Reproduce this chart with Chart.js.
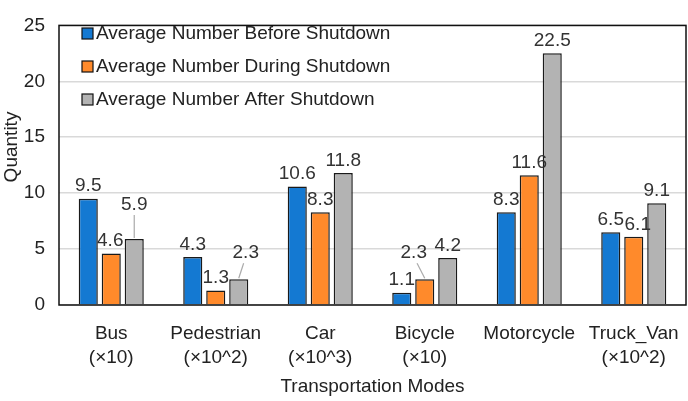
<!DOCTYPE html>
<html lang="en">
<head>
<meta charset="UTF-8">
<title>Transportation Modes</title>
<script src="https://cdn.jsdelivr.net/npm/chart.js"></script>
<style>
  html, body { margin: 0; padding: 0; background: #fff; }
  #wrap { width: 688px; height: 401px; }
</style>
</head>
<body>
<div id="wrap"><canvas id="chart"></canvas></div>
<script>
// data
const modes = [
  ['Bus', '(×10)'],
  ['Pedestrian', '(×10^2)'],
  ['Car', '(×10^3)'],
  ['Bicycle', '(×10)'],
  ['Motorcycle', ''],
  ['Truck_Van', '(×10^2)']
];
const beforeShutdown = [9.5, 4.3, 10.6, 1.1, 8.3, 6.5];
const duringShutdown = [4.6, 1.3, 8.3, 2.3, 11.6, 6.1];
const afterShutdown = [5.9, 2.3, 11.8, 4.2, 22.5, 9.1];
const yTicks = [0, 5, 10, 15, 20, 25];

// label nudges (dx, dy, leader line) for the crowded value labels
const nudges = {
  '1-0': [-1, 0, false],
  '2-0': [0, -22, true],
  '2-1': [7, -14, true],
  '1-3': [-11, -14, true],
  '1-5': [4, 0, false]
};

const font = 'Liberation Sans, Arial, sans-serif';
const fs = 19;

const frameAndLabels = {
  id: 'frameAndLabels',
  afterDatasetsDraw(chart) {
    const ctx = chart.ctx;
    const a = chart.chartArea;
    ctx.save();
    // value labels
    ctx.font = fs + 'px ' + font;
    ctx.fillStyle = '#333';
    ctx.textAlign = 'center';
    ctx.textBaseline = 'bottom';
    chart.data.datasets.forEach((ds, di) => {
      chart.getDatasetMeta(di).data.forEach((bar, i) => {
        const n = nudges[di + '-' + i] || [0, 0, false];
        const x = bar.x + n[0];
        const y = bar.y - 3 + n[1];
        if (n[2]) {
          ctx.strokeStyle = '#aaa';
          ctx.lineWidth = 1.2;
          ctx.beginPath();
          ctx.moveTo(x - n[0] * 0.3, y + 1);
          ctx.lineTo(bar.x, bar.y - 1);
          ctx.stroke();
        }
        ctx.fillText(ds.data[i].toFixed(1), x, y);
      });
    });
    // plot frame
    ctx.strokeStyle = '#111';
    ctx.lineWidth = 1.5;
    ctx.strokeRect(a.left, a.top, a.right - a.left, a.bottom - a.top);
    // legend inside the plot
    ctx.textAlign = 'left';
    ctx.textBaseline = 'middle';
    chart.data.datasets.forEach((ds, i) => {
      const y = 33 + i * 33;
      ctx.fillStyle = ds.backgroundColor;
      ctx.fillRect(82, y - 5, 11, 11);
      ctx.strokeStyle = '#111';
      ctx.lineWidth = 1.2;
      ctx.strokeRect(82, y - 5, 11, 11);
      ctx.fillStyle = '#222';
      ctx.fillText(ds.label, 96, y + 1);
    });
    // y axis title, sits a bit above the middle like the original
    ctx.translate(12, 147);
    ctx.rotate(-Math.PI / 2);
    ctx.textAlign = 'center';
    ctx.fillText('Quantity', 0, 0);
    ctx.restore();
  }
};

new Chart(document.getElementById('chart'), {
  type: 'bar',
  data: {
    labels: modes,
    datasets: [
      { label: 'Average Number Before Shutdown', data: beforeShutdown, backgroundColor: '#1479d2' },
      { label: 'Average Number During Shutdown', data: duringShutdown, backgroundColor: '#ff8a2b' },
      { label: 'Average Number After Shutdown', data: afterShutdown, backgroundColor: '#b3b3b3' }
    ].map(d => Object.assign(d, { borderColor: '#1a1a1a', borderWidth: 1.5, borderSkipped: 'bottom' }))
  },
  options: {
    responsive: true,
    maintainAspectRatio: false,
    animation: false,
    layout: { padding: { top: 13, right: 2, bottom: 0, left: 0 } },
    datasets: { bar: { categoryPercentage: 0.66, barPercentage: 0.83 } },
    plugins: { legend: { display: false }, tooltip: { enabled: false } },
    scales: {
      x: {
        grid: { display: false },
        border: { display: false },
        afterFit(scale) { scale.height = 96; },
        ticks: { color: '#222', font: { family: font, size: fs, lineHeight: 1.3 }, padding: 8, maxRotation: 0, autoSkip: false },
        title: { display: true, text: 'Transportation Modes', color: '#222', font: { family: font, size: fs }, padding: { top: 4, bottom: 3 } }
      },
      y: {
        min: 0,
        max: 25,
        afterBuildTicks(scale) { scale.ticks = yTicks.map(v => ({ value: v })); },
        afterFit(scale) { scale.width = 59; },
        grid: { color: '#d9d9d9', lineWidth: 1.5, drawTicks: false },
        border: { display: false },
        ticks: { color: '#222', font: { family: font, size: fs }, padding: 14 }
      }
    }
  },
  plugins: [frameAndLabels]
});
</script>
</body>
</html>
